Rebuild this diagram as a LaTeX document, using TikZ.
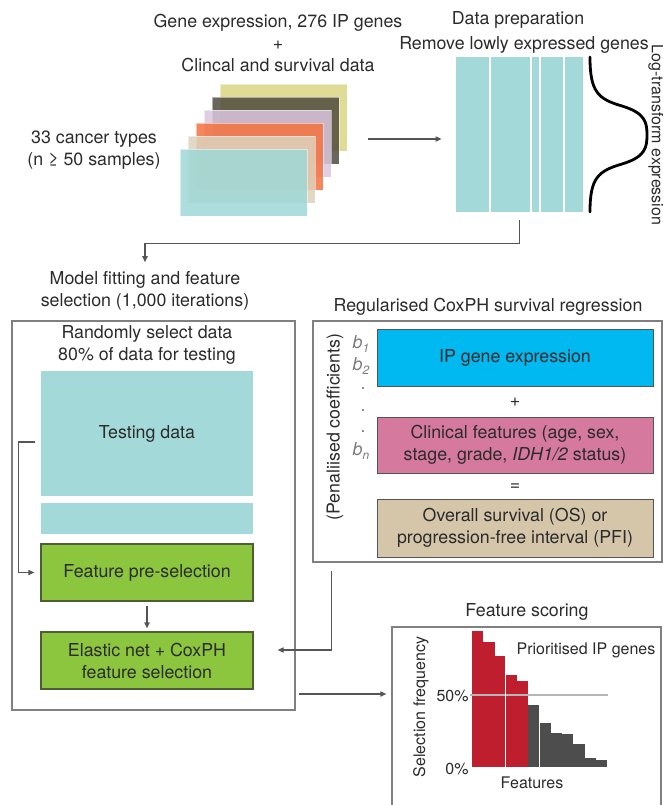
\documentclass[tikz,border=0pt]{standalone}
\usepackage{fontspec}
\setmainfont{TeX Gyre Heros}
\usetikzlibrary{arrows.meta}

\definecolor{textgrey}{HTML}{2B2B2B}
\definecolor{linegrey}{HTML}{555555}
\definecolor{panelgrey}{HTML}{808080}
\definecolor{coefgrey}{HTML}{7B7B7B}
\definecolor{datateal}{HTML}{A3DAD9}
\definecolor{layeryellow}{HTML}{D8D683}
\definecolor{layerdark}{HTML}{4F4B3E}
\definecolor{layerlilac}{HTML}{DCC6DF}
\definecolor{layerorange}{HTML}{F4723F}
\definecolor{layerbeige}{HTML}{DCD2BB}
\definecolor{layerteal}{HTML}{9FD8D7}
\definecolor{stepgreen}{HTML}{8CC63E}
\definecolor{stepedge}{HTML}{4E5D33}
\definecolor{ipblue}{HTML}{00B9F0}
\definecolor{clinpink}{HTML}{D6799E}
\definecolor{survtan}{HTML}{D5C6AA}
\definecolor{selred}{HTML}{BE1E2D}
\definecolor{restgrey}{HTML}{4D4D4D}
\definecolor{cutgrey}{HTML}{B5B5B5}

\begin{document}
\begin{tikzpicture}[x=0.5pt, y=-0.5pt, >={Triangle[length=3pt,width=2.6pt]},
    txt/.style={text=textgrey, font=\fontsize{8.9}{11}\selectfont, align=center, inner sep=0pt},
    small/.style={txt, font=\fontsize{8}{10}\selectfont},
    layer/.style={minimum width=63.5pt, minimum height=33.5pt, inner sep=0pt, fill opacity=0.85, draw=white, draw opacity=0.5, line width=0.4pt},
    panel/.style={draw=panelgrey, line width=0.6pt, inner sep=0pt},
    stepbox/.style={txt, fill=stepgreen, draw=stepedge, line width=0.6pt, minimum width=106pt, minimum height=28.5pt},
    regpart/.style={txt, draw=linegrey, line width=0.5pt, minimum width=138pt},
    coefl/.style={text=coefgrey, font=\fontsize{8.9}{11}\selectfont, inner sep=0pt},
    conn/.style={draw=linegrey, line width=0.6pt}]

            \useasboundingbox (0,0) rectangle (663,805);

            % Input data
            \node[txt] (inputs) at (278,43) {Gene expression, 276 IP genes\\+\\Clincal and survival data};
            \node[txt] (ntypes) at (94,150) {33 cancer types\\(n ≥ 50 samples)};
            \node[layer, fill=layeryellow] (layer1) at (283.5,117.5) {};
            \node[layer, fill=layerdark] (layer2) at (275.5,130.5) {};
            \node[layer, fill=layerlilac] (layer3) at (267.5,143.5) {};
            \node[layer, fill=layerorange] (layer4) at (259.5,156.5) {};
            \node[layer, fill=layerbeige] (layer5) at (251.5,169.5) {};
            \node[layer, fill=layerteal] (layer6) at (243.5,182.5) {};

            % Data preparation
            \node[txt] (preptitle) at (518,20) {Data preparation};
            \node[txt] (prepnote) at (524,45) {Remove lowly expressed genes};
            \node[fill=datateal, minimum width=63.5pt, minimum height=77.5pt, inner sep=0pt] (prep) at (519.5,134.5) {};
            \draw[white, line width=0.6pt] (490,57) -- (490,212);
            \draw[white, line width=0.6pt] (531,57) -- (531,212);
            \draw[white, line width=0.6pt] (540,57) -- (540,212);
            \draw[white, line width=0.6pt] (564,57) -- (564,212);
            \draw[line width=1.4pt, line cap=round] (590,57) .. controls (590,92) and (598,99) .. (622,106)
                .. controls (645,113) and (647,122) .. (647,135) .. controls (647,148) and (645,157) .. (622,164)
                .. controls (598,171) and (590,178) .. (590,212);
            \node[small, rotate=-90] (logt) at (656,135) {Log-transform expression};
            \coordinate (stackout) at (368,139);
            \draw[->, conn, shorten >=7pt] (stackout) -- (stackout -| prep.west);

            % Model fitting
            \node[txt] (mfit) at (145,291) {Model fitting and feature\\selection (1,000 iterations)};
            \draw[->, conn] ([yshift=-4pt]prep.south) -- ++(0,23) -| ([yshift=4.5pt]mfit.north);
            \node[panel, minimum width=141.5pt, minimum height=194.5pt] (fitbox) at (153.5,515.5) {};
            \node[txt] (select) at (147,345) {Randomly select data\\80\% of data for testing};
            \node[txt, fill=datateal, minimum width=106pt, minimum height=62.5pt] (testing) at (147,433.5) {Testing data};
            \node[fill=datateal, minimum width=106pt, minimum height=15.5pt, inner sep=0pt] (strip) at (147,518.5) {};
            \node[stepbox] (presel) at (147,572.5) {Feature pre-selection};
            \node[stepbox] (elastic) at (147,660.5) {Elastic net + CoxPH\\feature selection};
            \draw[->, conn, shorten <=2pt, shorten >=1.5pt] (presel) -- (elastic);
            \draw[->, conn] ([xshift=-3pt,yshift=-4.25pt]testing.west) -- ++(-16,0) |- ([xshift=-3pt]presel.west);

            % Survival regression
            \node[txt] (regtitle) at (488,307) {Regularised CoxPH survival regression};
            \node[panel, minimum width=174.5pt, minimum height=120.5pt] (regbox) at (487.5,441.5) {};
            \node[txt, rotate=90] (coef) at (335,427) {(Penaliised coefficients)};
            \node[coefl] (b1) at (361,344) {\textit{b}\raisebox{-0.4ex}{\fontsize{6}{7}\selectfont\textit{1}}};
            \node[coefl] (b2) at (361,366) {\textit{b}\raisebox{-0.4ex}{\fontsize{6}{7}\selectfont\textit{2}}};
            \node[coefl] (dot1) at (363,389) {.};
            \node[coefl] (dot2) at (363,411) {.};
            \node[coefl] (dot3) at (363,432) {.};
            \node[coefl] (bn) at (361,451) {\textit{b}\raisebox{-0.4ex}{\fontsize{6}{7}\selectfont\textit{n}}};
            \node[regpart, fill=ipblue, minimum height=28.5pt] (ipbox) at (515,357.5) {IP gene expression};
            \node[txt] (plus) at (515,402) {+};
            \node[regpart, fill=clinpink, minimum height=28pt] (clinbox) at (515,445) {Clinical features (age, sex,\\stage, grade, \textit{IDH1/2} status)};
            \node[txt] (equals) at (515,487) {=};
            \node[regpart, fill=survtan, minimum height=29pt] (survbox) at (515,528) {Overall survival (OS) or\\progression-free interval (PFI)};
            \draw[->, conn] ([xshift=9.5pt,yshift=-4pt]regbox.south west) |- ([xshift=12pt,yshift=5.25pt]elastic.east);

            % Feature scoring
            \node[txt] (scoretitle) at (527,612) {Feature scoring};
            \node[panel, minimum width=134.5pt, minimum height=96.5pt] (scorebox) at (526.5,723.5) {};
            \draw[->, conn, shorten <=1.5pt, shorten >=2.5pt] (fitbox.east |- 0,694) -- (scorebox.west |- 0,694);
            \fill[selred] (472,767) rectangle (483.25,631);
            \fill[selred] (483.25,767) rectangle (494.5,642);
            \fill[selred] (494.5,767) rectangle (505.75,656);
            \fill[selred] (505.75,767) rectangle (517,675);
            \fill[selred] (517,767) rectangle (528.25,681);
            \fill[restgrey] (528.25,767) rectangle (539.5,705);
            \fill[restgrey] (539.5,767) rectangle (550.75,723);
            \fill[restgrey] (550.75,767) rectangle (562,733);
            \fill[restgrey] (562,767) rectangle (573.25,734);
            \fill[restgrey] (573.25,767) rectangle (584.5,744);
            \fill[restgrey] (584.5,767) rectangle (595.75,758);
            \fill[restgrey] (595.75,767) rectangle (607,760);
            \draw[cutgrey, line width=0.7pt] (470,695) -- (608,695);
            \draw[white, line width=0.6pt] (505.75,767) -- (505.75,655);
            \draw[white, line width=0.6pt] (539.5,767) -- (539.5,704);
            \node[small, anchor=east] (p50) at (469,696) {50\%};
            \node[small, anchor=east] (p0) at (469,769) {0\%};
            \node[small, rotate=90] (selfreq) at (421,707) {Selection frequency};
            \node[small] (feat) at (532,783) {Features};
            \node[small] (prior) at (586,650) {Prioritised IP genes};
        \end{tikzpicture}
\end{document}
